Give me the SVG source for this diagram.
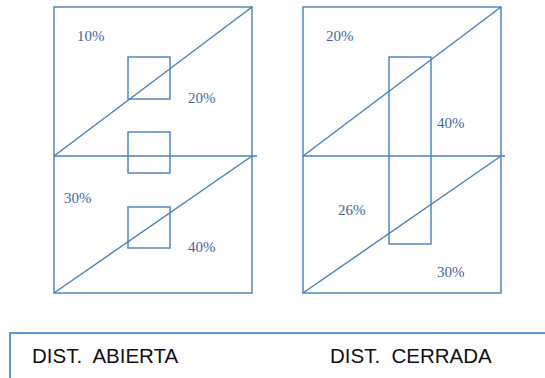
<svg xmlns="http://www.w3.org/2000/svg" width="545" height="378" viewBox="0 0 545 378">
<style>
.ln{fill:none;stroke:#4a7fb8;stroke-width:1.4}
.pct{font-family:"Liberation Serif",serif;font-size:15px;fill:#44679a}
.lbl{font-family:"Liberation Sans",Arial,sans-serif;font-size:20.5px;fill:#111;white-space:pre}
</style>
<rect width="545" height="378" fill="#fff"/>
<g id="left">
<rect class="ln" x="54" y="7" width="198" height="286"/>
<rect class="ln" x="128" y="57" width="42" height="42"/>
<rect class="ln" x="128" y="132" width="42" height="41"/>
<rect class="ln" x="128" y="207" width="42" height="41"/>
<text class="pct" x="77" y="41">10%</text>
<text class="pct" x="188" y="103">20%</text>
<text class="pct" x="64" y="203">30%</text>
<text class="pct" x="188" y="252">40%</text>
</g>
<g id="right">
<rect class="ln" x="303" y="7" width="198" height="286"/>
<rect class="ln" x="389" y="57" width="42" height="187"/>
<text class="pct" x="326" y="41">20%</text>
<text class="pct" x="437" y="128">40%</text>
<text class="pct" x="338" y="215">26%</text>
<text class="pct" x="437" y="277">30%</text>
</g>
<g id="connectors">
<line class="ln" x1="54" y1="156" x2="257" y2="156"/>
<line class="ln" x1="54" y1="156" x2="252" y2="7"/>
<line class="ln" x1="54" y1="293" x2="252" y2="156"/>
<line class="ln" x1="303" y1="156" x2="505" y2="156"/>
<line class="ln" x1="303" y1="156" x2="501" y2="7"/>
<line class="ln" x1="303" y1="293" x2="501" y2="156"/>
</g>
<g id="legend">
<path d="M10 378 V333 H545" fill="none" stroke="#5b9bd5" stroke-width="2"/>
<text class="lbl" x="32" y="363" xml:space="preserve">DIST.  ABIERTA</text>
<text class="lbl" x="330" y="363" xml:space="preserve">DIST.  CERRADA</text>
</g>
</svg>
